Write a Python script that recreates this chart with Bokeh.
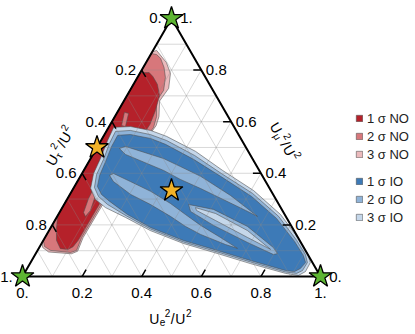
import math
from bokeh.plotting import figure
from bokeh.models import Range1d, Legend, LegendItem
from bokeh.embed import file_html
from bokeh.resources import INLINE
from bokeh.core.properties import value

# ---------------- data: ternary fractions (Ue^2/U^2, Umu^2/U^2); Utau^2/U^2 = 1 - Ue - Umu
TICK_VALUES = [0.0, 0.2, 0.4, 0.6, 0.8, 1.0]
TICK_LABELS = ["0.", "0.2", "0.4", "0.6", "0.8", "1."]
TICK_MARKS = [0.2, 0.4, 0.6, 0.8]
GRID_VALUES = [0.1, 0.2, 0.3, 0.4, 0.5, 0.6, 0.7, 0.8, 0.9]

LEGEND_NO = ["1 σ NO", "2 σ NO", "3 σ NO"]
LEGEND_IO = ["1 σ IO", "2 σ IO", "3 σ IO"]

# Normal ordering regions
NO_3S_UE = [0.0, 0.012, 0.0685, 0.103, 0.126, 0.12, 0.148, 0.156, 0.14, 0.13, 0.128, 0.136, 0.12, 0.04, 0.012, 0.0]
NO_3S_UMU = [0.87, 0.876, 0.829, 0.787, 0.729, 0.68, 0.62, 0.585, 0.45, 0.30, 0.15, 0.098, 0.088, 0.095, 0.112, 0.13]
NO_2S_UE = [0.0, 0.02, 0.041, 0.07, 0.094, 0.113, 0.11, 0.14, 0.151, 0.135, 0.125, 0.123, 0.131, 0.115, 0.044, 0.016, 0.0]
NO_2S_UMU = [0.864, 0.86, 0.845, 0.81, 0.771, 0.721, 0.68, 0.62, 0.578, 0.45, 0.30, 0.15, 0.101, 0.093, 0.101, 0.116, 0.14]
NO_1S_UE = [0.0, 0.03, 0.05, 0.08, 0.11, 0.125, 0.133, 0.125, 0.118, 0.117, 0.112, 0.100, 0.073, 0.044, 0.021, 0.0]
NO_1S_UMU = [0.79, 0.79, 0.775, 0.745, 0.70, 0.64, 0.59, 0.45, 0.30, 0.14, 0.115, 0.105, 0.108, 0.14, 0.186, 0.236]
NO_1S_HOLE_A_UE = [0.068, 0.0855, 0.100, 0.095, 0.081, 0.0705]
NO_1S_HOLE_A_UMU = [0.341, 0.3256, 0.2558, 0.2326, 0.248, 0.302]
NO_1S_HOLE_B_UE = [0.024, 0.040, 0.055, 0.040]
NO_1S_HOLE_B_UMU = [0.636, 0.632, 0.581, 0.585]

# Inverted ordering regions
IO_3S_UE = [0.017, 0.072, 0.147, 0.212, 0.338, 0.466, 0.609, 0.746, 0.853, 0.912, 0.939, 0.940, 0.924,
            0.877, 0.740, 0.610, 0.476, 0.340, 0.231, 0.145, 0.096, 0.058, 0.039, 0.033, 0.022]
IO_3S_UMU = [0.578, 0.581, 0.566, 0.543, 0.485, 0.411, 0.333, 0.240, 0.147, 0.089, 0.054, 0.019, 0.004,
             0.012, 0.050, 0.089, 0.128, 0.178, 0.229, 0.267, 0.298, 0.341, 0.399, 0.457, 0.527]
IO_2S_UE = [0.031, 0.079, 0.154, 0.220, 0.343, 0.468, 0.611, 0.743, 0.850, 0.907, 0.929, 0.928, 0.914,
            0.874, 0.737, 0.607, 0.473, 0.3375, 0.2318, 0.146, 0.100, 0.069, 0.051, 0.045, 0.034]
IO_2S_UMU = [0.562, 0.566, 0.550, 0.527, 0.469, 0.399, 0.322, 0.233, 0.140, 0.085, 0.054, 0.023, 0.012,
             0.0174, 0.0562, 0.095, 0.1337, 0.1841, 0.2345, 0.279, 0.310, 0.345, 0.395, 0.454, 0.516]
IO_2S_HOLE_UE = [0.447, 0.526, 0.666, 0.780, 0.680, 0.539, 0.456]
IO_2S_HOLE_UMU = [0.267, 0.244, 0.178, 0.105, 0.151, 0.217, 0.256]
IO_1S_UE = [0.046, 0.087, 0.162, 0.224, 0.347, 0.471, 0.614, 0.740, 0.845, 0.902, 0.923, 0.917, 0.903,
            0.871, 0.734, 0.604, 0.4705, 0.3346, 0.2322, 0.147, 0.106, 0.077, 0.063, 0.056, 0.047]
IO_1S_UMU = [0.547, 0.550, 0.535, 0.512, 0.454, 0.388, 0.310, 0.225, 0.136, 0.081, 0.054, 0.031, 0.019,
             0.0233, 0.062, 0.1008, 0.1395, 0.1899, 0.2403, 0.291, 0.318, 0.349, 0.392, 0.446, 0.504]
IO_1S_HOLE_U_UE = [0.077, 0.094, 0.245, 0.317, 0.404, 0.541, 0.672, 0.621, 0.427, 0.342, 0.268, 0.109]
IO_1S_HOLE_U_UMU = [0.496, 0.504, 0.457, 0.426, 0.388, 0.314, 0.233, 0.256, 0.341, 0.376, 0.411, 0.473]
IO_1S_HOLE_L_UE = [0.096, 0.106, 0.178, 0.265, 0.355, 0.427, 0.499, 0.589, 0.667, 0.619, 0.516, 0.450,
                   0.380, 0.290, 0.204, 0.121]
IO_1S_HOLE_L_UMU = [0.392, 0.399, 0.368, 0.330, 0.283, 0.240, 0.198, 0.151, 0.109, 0.124, 0.163, 0.194,
                    0.233, 0.279, 0.318, 0.368]
IO_1S_HOLE_C_UE = [0.418, 0.511, 0.658, 0.786, 0.811, 0.800, 0.689, 0.542, 0.438]
IO_1S_HOLE_C_UMU = [0.279, 0.260, 0.194, 0.112, 0.089, 0.085, 0.132, 0.198, 0.252]

# Benchmark points (stars)
GREEN_UE = [0.0, 1.0, 0.0]
GREEN_UMU = [0.0, 0.0, 1.0]
ORANGE_UE = [0.0, 0.3333]
ORANGE_UMU = [0.5, 0.3333]

# ---------------- styling / layout
COL_NO = ["#b5212a", "#d7777b", "#ebbabc"]
COL_IO = ["#3d7ab7", "#8fb3d8", "#c5d7ea"]
EDGE = "#4d4d4d"
FONT = value("Liberation Sans")
H = math.sqrt(3) / 2
PX = 1.0 / 298.0          # data units per screen pixel
TICK_LEN = 8 * PX


def to_xy(ue, umu):
    return [e + m / 2 for e, m in zip(ue, umu)], [m * H for m in umu]


def mpoly(outer, holes=()):
    ox, oy = to_xy(*outer)
    rx, ry = [ox], [oy]
    for h in holes:
        hx, hy = to_xy(*h)
        rx.append(hx)
        ry.append(hy)
    return [[rx]], [[ry]]


W, HGT = 415, 334
x0 = -22 * PX
y0 = -58 * PX
p = figure(width=W, height=HGT, x_range=Range1d(x0, x0 + W * PX), y_range=Range1d(y0, y0 + HGT * PX),
           min_border=0, toolbar_location=None, output_backend="svg")
p.axis.visible = False
p.grid.visible = False
p.outline_line_color = None
p.background_fill_color = "white"
p.border_fill_color = "white"

region_kw = dict(line_color=EDGE, line_width=0.7, line_alpha=0.8)

# NO regions
xs, ys = mpoly((NO_3S_UE, NO_3S_UMU))
r_no3 = p.multi_polygons(xs=xs, ys=ys, fill_color=COL_NO[2], **region_kw)
xs, ys = mpoly((NO_2S_UE, NO_2S_UMU))
r_no2 = p.multi_polygons(xs=xs, ys=ys, fill_color=COL_NO[1], **region_kw)
xs, ys = mpoly((NO_1S_UE, NO_1S_UMU), [(NO_1S_HOLE_A_UE, NO_1S_HOLE_A_UMU), (NO_1S_HOLE_B_UE, NO_1S_HOLE_B_UMU)])
r_no1 = p.multi_polygons(xs=xs, ys=ys, fill_color=COL_NO[0], **region_kw)

# IO regions
xs, ys = mpoly((IO_3S_UE, IO_3S_UMU))
r_io3 = p.multi_polygons(xs=xs, ys=ys, fill_color=COL_IO[2], **region_kw)
xs, ys = mpoly((IO_2S_UE, IO_2S_UMU), [(IO_2S_HOLE_UE, IO_2S_HOLE_UMU)])
r_io2 = p.multi_polygons(xs=xs, ys=ys, fill_color=COL_IO[1], **region_kw)
xs, ys = mpoly((IO_1S_UE, IO_1S_UMU), [(IO_1S_HOLE_U_UE, IO_1S_HOLE_U_UMU),
                                        (IO_1S_HOLE_L_UE, IO_1S_HOLE_L_UMU),
                                        (IO_1S_HOLE_C_UE, IO_1S_HOLE_C_UMU)])
r_io1 = p.multi_polygons(xs=xs, ys=ys, fill_color=COL_IO[0], **region_kw)

# grid lines (three families)
gx0, gy0, gx1, gy1 = [], [], [], []
for v in GRID_VALUES:
    for a, b in (((v, 0), (v, 1 - v)), ((0, v), (1 - v, v)), ((1 - v, 0), (0, 1 - v))):
        (ax,), (ay,) = to_xy([a[0]], [a[1]])
        (bx,), (by,) = to_xy([b[0]], [b[1]])
        gx0.append(ax); gy0.append(ay); gx1.append(bx); gy1.append(by)
p.segment(x0=gx0, y0=gy0, x1=gx1, y1=gy1, line_color="#888888", line_alpha=0.33, line_width=1)

# triangle border
bx, by = to_xy([0, 1, 0, 0], [0, 0, 1, 0])
p.line(bx, by, line_color="black", line_width=2)

# tick marks
tx0, ty0, tx1, ty1 = [], [], [], []
for v in TICK_MARKS:
    for a, b in (((v, 0), (v, TICK_LEN)),                     # Ue axis (bottom)
                 ((1 - v, v), (1 - v - TICK_LEN, v)),         # Umu axis (right)
                 ((0, 1 - v), (TICK_LEN, 1 - v - TICK_LEN))): # Utau axis (left)
        (ax,), (ay,) = to_xy([a[0]], [a[1]])
        (bx_,), (by_,) = to_xy([b[0]], [b[1]])
        tx0.append(ax); ty0.append(ay); tx1.append(bx_); ty1.append(by_)
p.segment(x0=tx0, y0=ty0, x1=tx1, y1=ty1, line_color="black", line_width=1.5)

# tick labels (drawn before the stars, which partly cover the corner labels)
lab_kw = dict(text_font=FONT, text_font_size="15px", text_align="center", text_baseline="middle",
              text_color="black")
bxs, bys = to_xy(TICK_VALUES, [0] * len(TICK_VALUES))
p.text(x=bxs, y=[y - 16 * PX for y in bys], text=TICK_LABELS, **lab_kw)
lxs, lys = to_xy([0] * len(TICK_VALUES), [1 - v for v in TICK_VALUES])
p.text(x=[x - 16 * PX for x in lxs], y=lys, text=TICK_LABELS, **lab_kw)
rxs, rys = to_xy([1 - v for v in TICK_VALUES], TICK_VALUES)
p.text(x=[x + 15 * PX for x in rxs], y=rys, text=TICK_LABELS, **lab_kw)

# stars
gx, gy = to_xy(GREEN_UE, GREEN_UMU)
p.scatter(gx, gy, marker="star", size=24, fill_color="#5db532", line_color="black", line_width=1.3)
ox_, oy_ = to_xy(ORANGE_UE, ORANGE_UMU)
p.scatter(ox_, oy_, marker="star", size=24, fill_color="#f1b228", line_color="black", line_width=1.3)


# axis titles, built from pieces (main text, subscript, superscripts)
def title(cx, cy, theta, sub):
    pieces = [("U", 14, 0.0, 0.0), (sub, 10, 10.3, -3.5), ("2", 10, 15.3, 6.0),
              ("/", 14, 21.5, 0.0), ("U", 14, 26.0, 0.0), ("2", 10, 36.6, 6.0)]
    wtot = 42.5
    c, s = math.cos(theta), math.sin(theta)
    for txt, size, u, v in pieces:
        lu, lv = u - wtot / 2, v - 5
        dx, dy = lu * c - lv * s, lu * s + lv * c
        p.text(x=[cx + dx * PX], y=[cy + dy * PX], text=[txt], angle=theta,
               text_font=FONT, text_font_size=f"{size}px", text_align="left",
               text_baseline="alphabetic", text_color="black")


title(0.497, -0.1255, 0.0, "e")
title(0.1124, 0.4463, math.radians(60), "τ")
title(0.8926, 0.4597, math.radians(-60), "μ")

# legends
leg_kw = dict(orientation="vertical", glyph_width=8, glyph_height=8, label_text_font_size="13px",
              label_text_font="Liberation Sans", label_text_color="#222222", label_standoff=4,
              label_height=18, spacing=0, padding=0, margin=0, border_line_color=None,
              background_fill_alpha=0)
leg1 = Legend(items=[LegendItem(label=LEGEND_NO[0], renderers=[r_no1]),
                     LegendItem(label=LEGEND_NO[1], renderers=[r_no2]),
                     LegendItem(label=LEGEND_NO[2], renderers=[r_no3])],
              location=(355, 171), **leg_kw)
leg2 = Legend(items=[LegendItem(label=LEGEND_IO[0], renderers=[r_io1]),
                     LegendItem(label=LEGEND_IO[1], renderers=[r_io2]),
                     LegendItem(label=LEGEND_IO[2], renderers=[r_io3])],
              location=(355, 108), **leg_kw)
p.add_layout(leg1)
p.add_layout(leg2)

open("out.html", "w").write(file_html(p, INLINE))
